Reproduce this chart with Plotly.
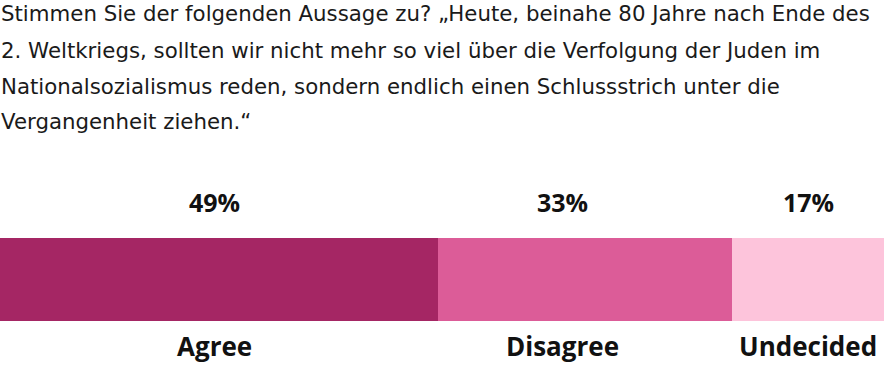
import plotly.graph_objects as go

categories = ["Agree", "Disagree", "Undecided"]
values = [49, 33, 17]
value_labels = ["49%", "33%", "17%"]
colors = ["#A52664", "#DC5C98", "#FDC4DB"]
title_lines = [
    "Stimmen Sie der folgenden Aussage zu? „Heute, beinahe 80 Jahre nach Ende des",
    "2. Weltkriegs, sollten wir nicht mehr so viel über die Verfolgung der Juden im",
    "Nationalsozialismus reden, sondern endlich einen Schlussstrich unter die",
    "Vergangenheit ziehen.“",
]

W, H = 884, 365
FONT = "Open Sans"
TITLE_FONT = "DejaVu Sans"

fig = go.Figure()
for cat, val, col in zip(categories, values, colors):
    fig.add_trace(go.Bar(
        x=[val], y=[0], orientation="h", name=cat,
        marker=dict(color=col, line=dict(width=0)),
        width=1, hoverinfo="skip", showlegend=False,
    ))

total = sum(values)
xshifts = [-4, -22, 0]
annotations = []
start = 0
for cat, val, lab, xs in zip(categories, values, value_labels, xshifts):
    cx = start + val / 2
    annotations.append(dict(x=cx, y=1 - 202 / H, xref="x", yref="paper",
                            text=f"<b>{lab}</b>", showarrow=False, xshift=xs,
                            font=dict(family=FONT, size=25, color="#111111"),
                            xanchor="center", yanchor="middle"))
    annotations.append(dict(x=cx, y=0, xref="x", yref="paper",
                            text=f"<b>{cat}</b>", showarrow=False, xshift=xs,
                            font=dict(family=FONT, size=26, color="#111111"),
                            xanchor="center", yanchor="bottom", borderpad=0))
    start += val

for i, line in enumerate(title_lines):
    annotations.append(dict(x=0, y=1 - (14 + 36 * i) / H, xref="paper", yref="paper",
                            text=line, showarrow=False, xanchor="left", yanchor="middle",
                            xshift=-1,
                            font=dict(family=TITLE_FONT, size=21.3, color="#1a1a1a")))

fig.update_layout(
    barmode="stack",
    width=W, height=H,
    margin=dict(l=0, r=0, t=0, b=0),
    paper_bgcolor="white", plot_bgcolor="white",
    xaxis=dict(range=[0, total], visible=False, fixedrange=True),
    yaxis=dict(range=[-0.5, 0.5], domain=[(H - 321) / H, (H - 238) / H],
               visible=False, fixedrange=True),
    annotations=annotations,
    bargap=0,
)
fig.write_html("out.html", config={"displayModeBar": False},
               post_script="document.body.style.margin='0';document.body.style.overflow='hidden';")
